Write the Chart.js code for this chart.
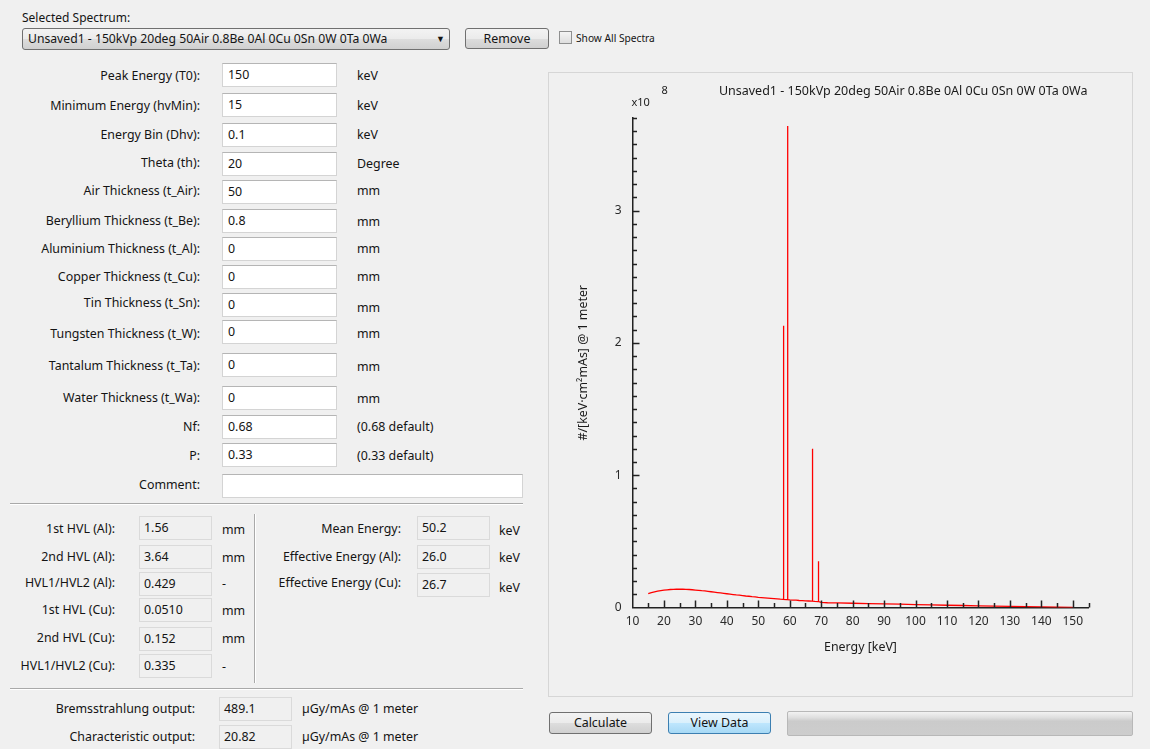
<!DOCTYPE html>
<html>
<head>
<meta charset="utf-8">
<script src="https://cdn.jsdelivr.net/npm/chart.js@4.4.1/dist/chart.umd.min.js"></script>
<style>
  body { margin:0; background:#f0f0f0; font-family:"Noto Sans", sans-serif; font-size:12.4px; color:#141414;
         width:1150px; height:749px; overflow:hidden; position:relative; }
  .t { position:absolute; white-space:nowrap; line-height:16px; transform:translateY(-50%); }
  .box { position:absolute; box-sizing:border-box; height:24px; background:#fff; border:1px solid #d4d4d4;
         border-top-color:#b5b5b5; padding-left:5px; line-height:21px; white-space:nowrap; }
  .ro { background:#f0f0f0; border:1px solid #dadada; padding-left:4px; }
  .sepH { position:absolute; height:0; border-top:1px solid #a9a9a9; border-bottom:1px solid #fff; }
  .sepV { position:absolute; width:0; border-left:1px solid #a9a9a9; border-right:1px solid #fff; }
  .btn { position:absolute; box-sizing:border-box; border:1px solid #707070; border-radius:3px; text-align:center;
         background:linear-gradient(#f3f3f3 0%, #ebebeb 50%, #dddddd 51%, #d0d0d0 100%); white-space:nowrap; }
  .blue { border-color:#3c7fb1; background:linear-gradient(#eaf6fd 0%, #d9f0fc 50%, #bee6fd 51%, #a7d9f5 100%); }
  #plotPanel { position:absolute; left:548px; top:72px; width:585px; height:625px; box-sizing:border-box;
               border:1px solid #d6d6d6; background:#f0f0f0; }
  #spectrum { position:absolute; left:0; top:0; }
</style>
</head>
<body>
<div class="t" style="left:22px;top:18px;font-size:12px;">Selected Spectrum:</div>
<div class="btn" style="left:22px;top:28px;width:428px;height:22px;text-align:left;padding-left:5px;line-height:20px;font-size:12.2px;">Unsaved1 - 150kVp 20deg 50Air 0.8Be 0Al 0Cu 0Sn 0W 0Ta 0Wa
  <span style="position:absolute;left:413px;top:0;font-size:9px;">&#9660;</span></div>
<div class="btn" style="left:465px;top:28px;width:84px;height:21px;line-height:19px;">Remove</div>
<div style="position:absolute;left:559px;top:31px;width:13px;height:13px;box-sizing:border-box;border:1px solid #8e8f8f;background:linear-gradient(#f4f4f4,#dedede);"></div>
<div class="t" style="left:576px;top:38px;font-size:10.2px;">Show All Spectra</div>

<div id="form"></div>

<div id="plotPanel"><canvas id="spectrum" width="583" height="623"></canvas></div>

<div class="btn" style="left:549px;top:712px;width:103px;height:22px;line-height:20px;">Calculate</div>
<div class="btn blue" style="left:668px;top:712px;width:103px;height:22px;line-height:20px;">View Data</div>
<div style="position:absolute;left:787px;top:711px;width:346px;height:25px;box-sizing:border-box;border:1px solid #b8b8b8;border-radius:2px;background:linear-gradient(#f2f2f2 0%,#dedede 25%,#cbcbcb 40%,#cdcdcd 100%);"></div>

<script>
// ---- spectrum: energy [keV] and fluence [x10^8 photons/(keV·cm²·mAs) @ 1 m] ----
const energyKeV = [
  15, 16, 17, 18, 19, 20, 21, 22, 23, 24, 25, 26, 27, 28, 29, 30,
  31, 32, 33, 34, 35, 36, 37, 38, 39, 40, 41, 42, 43, 44, 45, 46,
  47, 48, 49, 50, 51, 52, 53, 54, 55, 56, 57, 57.9, 58.0, 58.1, 59,
  59.2, 59.3, 59.4, 60, 61, 62, 63, 64, 65, 66, 67, 67.1, 67.2, 67.3,
  68, 69, 69.1, 69.2, 70, 71, 72, 75, 80, 85, 90, 95, 100, 105, 110,
  115, 120, 125, 130, 135, 140, 145, 150
];
const fluenceE8 = [
  0.105, 0.112, 0.118, 0.123, 0.127, 0.131, 0.134, 0.136, 0.137, 0.138, 0.138, 0.138, 0.137, 0.136, 0.134, 0.132,
  0.130, 0.127, 0.125, 0.122, 0.119, 0.116, 0.113, 0.110, 0.107, 0.104, 0.101, 0.098, 0.095, 0.093, 0.090, 0.087,
  0.085, 0.082, 0.080, 0.077, 0.075, 0.073, 0.071, 0.069, 0.067, 0.065, 0.063, 0.062, 2.13, 0.062, 0.060,
  0.060, 3.64, 0.060, 0.058, 0.056, 0.055, 0.053, 0.052, 0.050, 0.049, 0.048, 0.048, 1.20, 0.048,
  0.046, 0.045, 0.35, 0.045, 0.038, 0.037, 0.036, 0.035, 0.032, 0.030, 0.028, 0.025, 0.022, 0.020, 0.017,
  0.015, 0.012, 0.010, 0.008, 0.006, 0.004, 0.002, 0.000
];
const xTickLabels = [10, 20, 30, 40, 50, 60, 70, 80, 90, 100, 110, 120, 130, 140, 150];
const yTickLabels = [0, 1, 2, 3];
const plotTitle = 'Unsaved1 - 150kVp 20deg 50Air 0.8Be 0Al 0Cu 0Sn 0W 0Ta 0Wa';

// ---- input parameters ----
const inputLabels = ['Peak Energy (T0):', 'Minimum Energy (hvMin):', 'Energy Bin (Dhv):', 'Theta (th):',
  'Air Thickness (t_Air):', 'Beryllium Thickness (t_Be):', 'Aluminium Thickness (t_Al):', 'Copper Thickness (t_Cu):',
  'Tin Thickness (t_Sn):', 'Tungsten Thickness (t_W):', 'Tantalum Thickness (t_Ta):', 'Water Thickness (t_Wa):',
  'Nf:', 'P:', 'Comment:'];
const inputValues = ['150', '15', '0.1', '20', '50', '0.8', '0', '0', '0', '0', '0', '0', '0.68', '0.33', ''];
const inputUnits = ['keV', 'keV', 'keV', 'Degree', 'mm', 'mm', 'mm', 'mm', 'mm', 'mm', 'mm', 'mm',
  '(0.68 default)', '(0.33 default)', ''];

// ---- computed results ----
const hvlLabels = ['1st HVL (Al):', '2nd HVL (Al):', 'HVL1/HVL2 (Al):', '1st HVL (Cu):', '2nd HVL (Cu):', 'HVL1/HVL2 (Cu):'];
const hvlValues = ['1.56', '3.64', '0.429', '0.0510', '0.152', '0.335'];
const hvlUnits = ['mm', 'mm', '-', 'mm', 'mm', '-'];
const energyLabels = ['Mean Energy:', 'Effective Energy (Al):', 'Effective Energy (Cu):'];
const energyValues = ['50.2', '26.0', '26.7'];
const outputLabels = ['Bremsstrahlung output:', 'Characteristic output:'];
const outputValues = ['489.1', '20.82'];
const outputUnit = 'µGy/mAs @ 1 meter';

// ---- form layout ----
const inputRowLabelY = [76, 106, 135, 163, 191, 221, 249, 277, 303, 334, 366, 398, 427, 456, 485];
const inputRowBoxTop = [63, 93, 123, 152, 180, 209, 237, 265, 293, 320, 353, 386, 415, 443, 474];
const inputRowUnitY  = [76, 106, 135, 164, 191, 222, 249, 277, 308, 334, 367, 399, 427, 456, 485];
const hvlRowLabelY = [529, 557, 583, 610, 638, 666];
const hvlRowBoxTop = [516, 545, 572, 598, 627, 654];
const energyRowUnitY = [531, 558, 588];
const energyRowBoxTop = [516, 545, 573];
const outputRowLabelY = [709, 737];
const outputRowBoxTop = [697, 725];

const form = document.getElementById('form');
function add(html) { form.insertAdjacentHTML('beforeend', html); }
function rightText(txt, xRight, y) { add(`<div class="t" style="right:${1150 - xRight}px;top:${y}px;">${txt}</div>`); }
function leftText(txt, x, y) { add(`<div class="t" style="left:${x}px;top:${y}px;">${txt}</div>`); }
function box(val, x, top, w, ro) { add(`<div class="box${ro ? ' ro' : ''}" style="left:${x}px;top:${top}px;width:${w}px;">${val}</div>`); }

inputLabels.forEach((lab, i) => {
  rightText(lab, 200, inputRowLabelY[i]);
  box(inputValues[i], 222, inputRowBoxTop[i], lab === 'Comment:' ? 301 : 115, false);
  if (inputUnits[i]) leftText(inputUnits[i], 357, inputRowUnitY[i]);
});
add('<div class="sepH" style="left:10px;top:503px;width:513px;"></div>');
hvlLabels.forEach((lab, i) => {
  rightText(lab, 115, hvlRowLabelY[i]);
  box(hvlValues[i], 139, hvlRowBoxTop[i], 73, true);
  leftText(hvlUnits[i], 222, hvlRowLabelY[i] + 1);
});
add('<div class="sepV" style="left:254px;top:514px;height:169px;"></div>');
energyLabels.forEach((lab, i) => {
  rightText(lab, 401, hvlRowLabelY[i]);
  box(energyValues[i], 417, energyRowBoxTop[i], 73, true);
  leftText('keV', 499, energyRowUnitY[i]);
});
add('<div class="sepH" style="left:10px;top:688px;width:513px;"></div>');
outputLabels.forEach((lab, i) => {
  rightText(lab, 195, outputRowLabelY[i]);
  box(outputValues[i], 219, outputRowBoxTop[i], 73, true);
  leftText(outputUnit, 302, outputRowLabelY[i]);
});

// ---- chart ----
const FONT = '"Noto Sans", sans-serif';

// inward tick marks, exponent and plot title
const axisDecor = {
  id: 'axisDecor',
  afterDraw(chart) {
    const { ctx, chartArea: a, scales: { x, y } } = chart;
    ctx.save();
    ctx.strokeStyle = '#222';
    ctx.lineWidth = 1.5;
    ctx.beginPath();
    for (let v = 15; v <= 155; v += 5) {
      const px = Math.round(x.getPixelForValue(v)) + 0.5;
      const len = (v % 10 === 0) ? 7 : 4.5;
      ctx.moveTo(px, a.bottom); ctx.lineTo(px, a.bottom - len);
    }
    for (let k = 1; k <= 37; k++) {
      const v = k / 10;
      const py = Math.round(y.getPixelForValue(v)) + 0.5;
      const len = (k % 10 === 0) ? 7 : 4.5;
      ctx.moveTo(a.left, py); ctx.lineTo(a.left + len, py);
    }
    ctx.stroke();

    ctx.fillStyle = '#1a1a1a';
    ctx.textBaseline = 'middle';
    ctx.font = '12.5px ' + FONT;
    ctx.textAlign = 'right';
    ctx.fillText(plotTitle, a.right - 1, a.top - 27);
    ctx.textAlign = 'left';
    ctx.font = '11px ' + FONT;
    ctx.fillText('x10', a.left - 1, a.top - 15);
    ctx.fillText('8', a.left + 29, a.top - 27);
    ctx.restore();
  }
};

new Chart(document.getElementById('spectrum'), {
  type: 'line',
  data: {
    datasets: [{
      data: energyKeV.map((e, i) => ({ x: e, y: fluenceE8[i] })),
      borderColor: '#ff0000',
      borderWidth: 1.3,
      pointRadius: 0,
      tension: 0,
      fill: false
    }]
  },
  options: {
    responsive: false,
    animation: false,
    layout: { padding: { top: 45, right: 43.5, left: 0, bottom: 0 } },
    plugins: { legend: { display: false }, tooltip: { enabled: false }, title: { display: false } },
    scales: {
      x: {
        type: 'linear', min: 10, max: 155,
        afterBuildTicks: s => { s.ticks = xTickLabels.map(v => ({ value: v })); },
        afterFit: s => { s.height = 88.5; },
        grid: { display: true, drawOnChartArea: false, drawTicks: false },
        border: { display: true, color: '#222', width: 1.5 },
        ticks: { padding: 7, color: '#2a2a2a', font: { family: FONT, size: 12 }, maxRotation: 0, autoSkip: false },
        title: { display: true, text: 'Energy [keV]', color: '#1a1a1a', font: { family: FONT, size: 12.4 }, padding: { top: 0, bottom: 41 } }
      },
      y: {
        type: 'linear', min: 0, max: 3.7,
        afterBuildTicks: s => { s.ticks = yTickLabels.map(v => ({ value: v })); },
        afterFit: s => { s.width = 83.5; },
        grid: { display: true, drawOnChartArea: false, drawTicks: false },
        border: { display: true, color: '#222', width: 1.5 },
        ticks: { padding: 11, color: '#2a2a2a', font: { family: FONT, size: 12 } },
        title: { display: true, text: '#/[keV·cm²mAs] @ 1 meter', color: '#1a1a1a', font: { family: FONT, size: 12.4 }, padding: { top: 27, bottom: 0 } }
      }
    }
  },
  plugins: [axisDecor]
});
</script>
</body>
</html>
